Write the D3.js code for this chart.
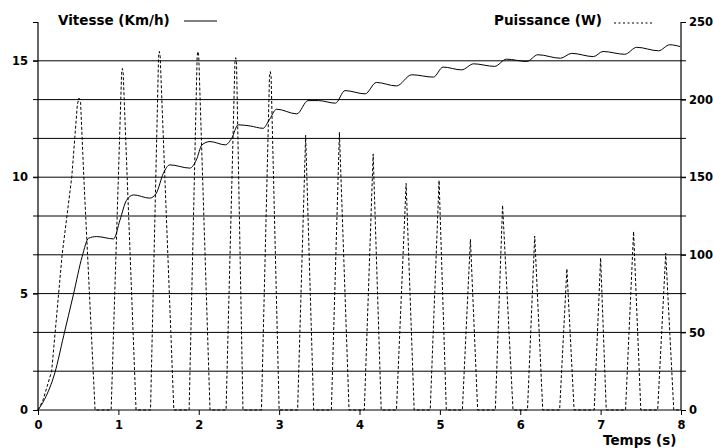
<!DOCTYPE html>
<html><head><meta charset="utf-8">
<script src="https://cdn.jsdelivr.net/npm/d3@7/dist/d3.min.js"></script>
<style>
html,body{margin:0;padding:0;background:#fff;}
svg{display:block;}
text{font-family:"DejaVu Sans",sans-serif;font-weight:bold;fill:#000;}
</style></head>
<body>
<svg id="c" width="713" height="448"></svg>
<script>
// ---- data ----
const speedT = [0,0.08,0.21,0.32,0.44,0.55,0.63,0.73,0.94,1.02,1.10,1.19,1.39,1.47,1.56,1.64,1.89,1.97,2.04,2.14,2.33,2.41,2.49,2.64,2.80,2.87,2.97,3.22,3.36,3.49,3.70,3.82,4.07,4.21,4.46,4.65,4.92,5.04,5.27,5.42,5.68,5.83,6.08,6.22,6.50,6.64,6.91,7.03,7.30,7.45,7.72,7.86,7.99];
const speedV = [0,0.45,1.6,3.2,4.95,6.6,7.38,7.45,7.35,8.16,9.0,9.24,9.1,9.3,10.17,10.53,10.39,10.74,11.39,11.53,11.39,11.67,12.25,12.2,12.1,12.42,12.92,12.72,13.29,13.29,13.18,13.72,13.58,14.07,13.92,14.4,14.3,14.73,14.61,14.87,14.76,15.07,14.97,15.26,15.11,15.32,15.18,15.40,15.28,15.58,15.43,15.69,15.61];
const powerT = [0,0.06,0.17,0.30,0.42,0.49,0.51,0.53,0.57,0.64,0.71,
  0.91,1.04,1.05,1.06,1.22, 1.40,1.50,1.51,1.52,1.69, 1.88,1.98,1.99,2.00,2.14, 2.34,2.45,2.46,2.47,2.55,
  2.78,2.88,2.89,2.90,3.00, 3.23,3.33,3.43, 3.65,3.75,3.87, 4.06,4.17,4.27,
  4.46,4.58,4.68, 4.88,4.99,5.08, 5.28,5.38,5.47, 5.69,5.78,5.91,
  6.09,6.18,6.28, 6.49,6.58,6.67, 6.92,7.00,7.07, 7.31,7.41,7.50,
  7.71,7.81,7.91, 8.0];
const powerW = [0,6,25,100,150,197,201,198,150,75,0,
  0,217,220,217,0, 0,228,231,228,0, 0,228,231,228,0, 0,224,227,224,0,
  0,215,218,215,0, 0,177,0, 0,179,0, 0,165,0,
  0,146,0, 0,148,0, 0,110,0, 0,132,0,
  0,112,0, 0,91,0, 0,98,0, 0,115,0,
  0,101,0, 0];
const xTicks = [0,1,2,3,4,5,6,7,8];
const leftTicks = [0,5,10,15];
const rightTicks = [0,50,100,150,200,250];
const gridW = [25,50,75,100,125,150,175,200,225];
const speedLabel = "Vitesse (Km/h)";
const powerLabel = "Puissance (W)";
const xLabel = "Temps (s)";

// ---- layout ----
const svg = d3.select("#c");
const x = d3.scaleLinear().domain([0,8]).range([38,681]);
const yR = d3.scaleLinear().domain([0,250]).range([410,22]);
const yL = d3.scaleLinear().domain([0,250/15]).range([410,22]);

// grid lines
svg.append("g").selectAll("line").data(gridW).join("line")
  .attr("x1",33).attr("x2",686)
  .attr("y1",d=>yR(d)).attr("y2",d=>yR(d))
  .attr("stroke","#000").attr("stroke-width",1);

// axes
const gx = svg.append("g").attr("transform","translate(0,410)")
  .call(d3.axisBottom(x).tickValues(xTicks).tickSize(5).tickPadding(6).tickFormat(d3.format("d")));
const gl = svg.append("g").attr("transform","translate(38,0)")
  .call(d3.axisLeft(yL).tickValues(leftTicks.concat([250/15])).tickSize(5).tickPadding(5)
    .tickFormat(d=> leftTicks.includes(d) ? d : ""));
const gr = svg.append("g").attr("transform","translate(681,0)")
  .call(d3.axisRight(yR).tickValues(rightTicks).tickSize(5).tickPadding(3));
[gx,gl,gr].forEach(g=>{
  g.select(".domain").attr("stroke","#000").attr("stroke-width",1.2);
  g.selectAll(".tick line").attr("stroke","#000");
  g.selectAll("text").attr("font-family","DejaVu Sans").attr("font-weight","bold").attr("font-size","11.5px").attr("fill","#000");
});
gl.select(".domain").attr("d","M0,22V410");
gr.select(".domain").attr("d","M0,22V410");
gx.select(".domain").attr("d","M0,0H643");
gx.select(".domain").attr("transform","translate(38,0)");

// power line (dotted)
const pData = powerT.map((t,i)=>[t,powerW[i]]);
svg.append("path").datum(pData)
  .attr("fill","none").attr("stroke","#000").attr("stroke-width",1)
  .attr("stroke-dasharray","3,2")
  .attr("d", d3.line().x(d=>x(d[0])).y(d=>yR(d[1])).curve(d3.curveLinear));

// speed line (solid)
const sData = speedT.map((t,i)=>[t,speedV[i]]);
svg.append("path").datum(sData)
  .attr("fill","none").attr("stroke","#000").attr("stroke-width",1)
  .attr("d", d3.line().x(d=>x(d[0])).y(d=>yL(d[1])).curve(d3.curveMonotoneX));

// legends
svg.append("text").attr("x",58).attr("y",25).attr("font-size","13.5px").text(speedLabel);
svg.append("line").attr("x1",184).attr("x2",217).attr("y1",21).attr("y2",21).attr("stroke","#000").attr("stroke-width",1.2);
svg.append("text").attr("x",494).attr("y",25).attr("font-size","13.5px").text(powerLabel);
svg.append("line").attr("x1",614).attr("x2",653).attr("y1",23).attr("y2",23).attr("stroke","#000").attr("stroke-width",1).attr("stroke-dasharray","2,2.5");

// x label
svg.append("text").attr("x",603).attr("y",445).attr("font-size","13.5px").text(xLabel);
</script>
</body></html>
